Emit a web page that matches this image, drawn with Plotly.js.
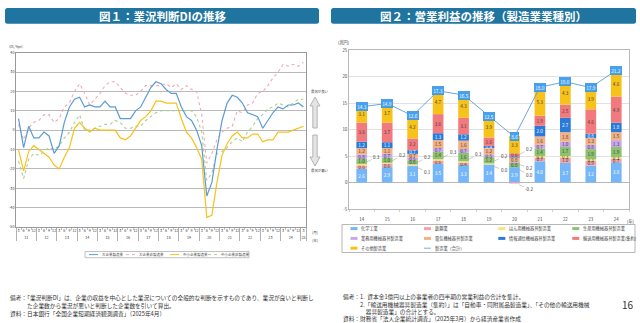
<!DOCTYPE html>
<html><head><meta charset="utf-8">
<script src="https://cdn.plot.ly/plotly-3.0.1.min.js"></script>
<style>html,body{margin:0;padding:0;background:#fff;}#chart{width:640px;height:323px;}</style>
</head><body><div id="chart"></div>
<script>
// ---------- Figure 1 data: 業況判断DI ----------
const yearLabels1 = ['11','12','13','14','15','16','17','18','19','20','21','22','23','24','25'];
const monthLabels1 = ['3','6','9','12'];
const seriesNames1 = ['大企業製造業','大企業非製造業','中小企業製造業','中小企業非製造業'];
const largeMfg    = [6,-9,2,-4, -4,-1,-3,-12, -8,4,12,16, 17,12,13,12, 12,15,12,12, 6,6,6,10, 12,17,22,25, 24,21,19,19, 12,7,5,0, -8,-34,-27,-10, 5,14,18,17, 14,9,8,7, 1,5,9,12, 11,13,13,14, 12];
const largeNonMfg = [3,-5,1,4, 5,8,8,4, 6,12,14,20, 24,19,13,16, 19,23,25,25, 22,19,18,18, 20,23,23,23, 23,24,22,24, 21,23,21,20, 8,-17,-12,-5, -1,1,2,10, 9,13,14,19, 20,23,27,30, 34,33,34,33, 35];
const smallMfg    = [-10,-21,-11,-8, -10,-12,-14,-18, -20,-14,-9,1, 4,1,-1,1, 0,0,0,0, -4,-5,-3,1, 5,7,10,15, 15,14,14,14, 6,-1,-4,-9, -15,-45,-44,-27, -13,-7,-3,-1, -4,-4,-2,-2, -6,-5,-5,-1, -1,-1,0,1, 2];
const smallNonMfg = [-16,-25,-15,-12, -13,-11,-9,-10, -8,-4,-1,4, 8,0,0,1, 2,3,3,5, 4,1,1,2, 2,5,7,9, 10,10,10,10, 10,10,10,7, -1,-26,-22,-12, -11,-9,-6,-4, -6,-1,2,6, 8,11,12,14, 13,12,14,16, 16];
const yTicks1 = [-50,-40,-30,-20,-10,0,10,20,30,40];

// ---------- Figure 2 data: 営業利益 ----------
const years2 = ['14','15','16','17','18','19','20','21','22','23','24'];
const names2 = ['化学工業','鉄鋼業','はん用機械器具製造業','生産用機械器具製造業','業務用機械器具製造業','電気機械器具製造業','情報通信機械器具製造業','輸送用機械器具製造業(集約)','その他製造業'];
const chem   = [2.6,2.9,3.1,3.5,3.3,3.4,2.9,4.0,3.7,3.2,3.8];
const steel  = [0.6,0.6,0.1,0.6,0.4,0.0,-0.2,0.7,1.0,0.9,0.7];
const hanyo  = [0.3,0.2,0.2,0.3,0.3,0.2,0.0,0.3,0.3,0.3,0.3];
const seisan = [1.0,1.0,0.8,1.4,1.6,1.2,0.8,1.4,1.7,1.9,1.9];
const gyomu  = [0.8,0.7,0.5,0.7,0.7,0.5,0.2,0.7,1.0,0.8,1.3];
const denki  = [1.2,1.1,0.7,1.5,1.6,1.2,0.8,1.6,1.8,1.3,1.5];
const joho   = [1.2,1.1,0.7,1.3,1.2,0.4,0.2,2.0,2.7,0.8,1.8];
const yuso   = [3.6,3.7,2.2,3.6,3.1,1.6,0.6,1.9,2.5,4.6,4.9];
const other  = [3.1,3.7,4.2,4.7,4.3,3.9,3.3,5.3,4.3,3.9,4.6];
const totalName = '製造業（合計）';
const total  = [14.3,14.9,12.6,17.3,16.5,12.5,8.6,18.0,19.0,17.9,21.2];
const yTicks2 = [-5,0,5,10,15,20,25];

// ---------- styling ----------
const FONT = '"Noto Sans CJK JP","Noto Sans",sans-serif';
const W = 640, H = 323;
const X = px => px / W, Y = py => 1 - py / H;
const P = (x, y) => `${X(x)},${Y(y)}`;
const colors1 = ['#5b9bd5','#f4a7b9','#f5c21b','#a9d08e'];
const dashes1 = ['solid','dot','solid','dot'];
const colors2 = ['#74b6f7','#f5a3a8','#fbe27a','#8dc26f','#c9a6ee','#f4b185','#2a7ad9','#f27a7e','#f7c31a'];
const txtCol2 = ['#ffffff','#404040','#404040','#404040','#404040','#404040','#ffffff','#404040','#404040'];
const BANNER = '#1f74a0';

// plot areas (px)
const A1 = {l:16, r:306, t:52.7, b:227};
const A2 = {l:349, r:629, t:50, b:209};

// ---------- build figure 1 ----------
const xYears = [], xMonths = [];
yearLabels1.forEach((y, yi) => {
  const ms = (yi === yearLabels1.length - 1) ? monthLabels1.slice(0, 1) : monthLabels1;
  ms.forEach(m => { xYears.push(y); xMonths.push(m); });
});
const series1 = [largeMfg, largeNonMfg, smallMfg, smallNonMfg];
const drawOrder1 = [3, 1, 2, 0];
const traces = [];
drawOrder1.forEach(k => {
  traces.push({
    type: 'scatter', mode: 'lines', name: seriesNames1[k],
    x: [xYears, xMonths], y: series1[k], xaxis: 'x', yaxis: 'y',
    line: {color: colors1[k], width: dashes1[k] === 'dot' ? 1.1 : 1.2, dash: dashes1[k]},
    showlegend: false, hoverinfo: 'skip'
  });
});

// ---------- build figure 2 ----------
const stack2 = [chem, steel, hanyo, seisan, gyomu, denki, joho, yuso, other];
const OUT_MAX = 0.3, OUT_LAST_INDEX = 6;
const isOut = (v, i) => i <= OUT_LAST_INDEX && Math.abs(v) <= OUT_MAX;
stack2.forEach((arr, s) => {
  traces.push({
    type: 'bar', name: names2[s], x: years2, y: arr, xaxis: 'x2', yaxis: 'y2',
    marker: {color: colors2[s], line: {width: 0}},
    text: arr.map((v, i) => isOut(v, i) ? '' : v.toFixed(1)),
    textposition: 'inside', insidetextanchor: 'middle', textangle: 0,
    constraintext: 'none', cliponaxis: false,
    insidetextfont: {size: 4.6, color: txtCol2[s], family: FONT},
    showlegend: false, hoverinfo: 'skip'
  });
});
traces.push({
  type: 'scatter', mode: 'lines', name: totalName, x: years2, y: total,
  xaxis: 'x2', yaxis: 'y2', line: {color: '#5b9bd5', width: 0.9},
  showlegend: false, hoverinfo: 'skip'
});

const annotations = [];
const shapes = [];

// total labels (x given as category index on the category axis)
years2.forEach((yr, i) => {
  annotations.push({x: i, y: total[i], xref: 'x2', yref: 'y2', text: total[i].toFixed(1),
    showarrow: false, bgcolor: '#45a0ee', bordercolor: '#2f8fe0', borderwidth: 0.6, borderpad: 0.6,
    font: {size: 4.8, color: '#ffffff', family: FONT}});
});

// outside small-value labels with leader lines
const ppu = (A2.b - A2.t) / 30;
years2.forEach((yr, i) => {
  let pos = 0, neg = 0;
  const segs = [];
  stack2.forEach(arr => {
    const v = arr[i];
    let mid;
    if (v < 0) { mid = neg + v / 2; neg += v; } else { mid = pos + v / 2; pos += v; }
    if (isOut(v, i)) segs.push({v, mid});
  });
  segs.sort((a, b) => a.mid - b.mid);
  let prev = null;
  for (let k = segs.length - 1; k >= 0; k--) {
    const midPx = segs[k].mid * ppu;
    const tgt = (k === segs.length - 1) ? midPx + 8 : Math.min(midPx - 6, prev - 7);
    prev = tgt;
    annotations.push({x: i, y: segs[k].mid, xref: 'x2', yref: 'y2', text: segs[k].v.toFixed(1),
      showarrow: true, ax: 15, ay: -(tgt - midPx), arrowhead: 0, arrowwidth: 0.5,
      arrowcolor: '#9a9a9a', standoff: 5, font: {size: 4.6, color: '#404040', family: FONT}});
  }
});

// banners
function roundRect(x0, y0, x1, y1, r) {
  const rx = r / W, ry = r / H;
  const a = X(x0), b = X(x1), c = Y(y0), d = Y(y1);
  return `M${a+rx},${c} L${b-rx},${c} Q${b},${c} ${b},${c-ry} L${b},${d+ry} Q${b},${d} ${b-rx},${d} L${a+rx},${d} Q${a},${d} ${a},${d+ry} L${a},${c-ry} Q${a},${c} ${a+rx},${c} Z`;
}
shapes.push({type: 'path', xref: 'paper', yref: 'paper', path: roundRect(5, 8, 319, 23.8, 2.5), fillcolor: BANNER, line: {width: 0}});
shapes.push({type: 'path', xref: 'paper', yref: 'paper', path: roundRect(331, 8, 636, 23.8, 2.5), fillcolor: BANNER, line: {width: 0}});
annotations.push({xref: 'paper', yref: 'paper', x: X(163), y: Y(16), text: '<b>図１：業況判断DIの推移</b>', showarrow: false,
  font: {size: 11.5, color: '#ffffff', family: FONT}, xanchor: 'center', yanchor: 'middle'});
annotations.push({xref: 'paper', yref: 'paper', x: X(483), y: Y(16), text: '<b>図２：営業利益の推移（製造業業種別）</b>', showarrow: false,
  font: {size: 11.5, color: '#ffffff', family: FONT}, xanchor: 'center', yanchor: 'middle'});

// small text helper
function txt(x, y, t, size, anchor, color) {
  annotations.push({xref: 'paper', yref: 'paper', x: X(x), y: Y(y), text: t, showarrow: false,
    xanchor: anchor || 'left', yanchor: 'middle', font: {size: size, color: color || '#404040', family: FONT}});
}
txt(7, 46.5, '(DI, %pt)', 3.4);
txt(310, 232, '(月)', 3.6);
txt(310, 240.5, '(年)', 3.6);
txt(336, 42.5, '(兆円)', 4.2);
txt(625, 221, '(年)', 4.2);

// fig1 right side arrows
shapes.push({type: 'path', xref: 'paper', yref: 'paper',
  path: `M${P(315,97)} L${P(320,106)} L${P(317.2,106)} L${P(317.2,128)} L${P(312.8,128)} L${P(312.8,106)} L${P(310,106)} Z`,
  fillcolor: '#e4e4e4', line: {color: '#a6a6a6', width: 0.8}});
shapes.push({type: 'path', xref: 'paper', yref: 'paper',
  path: `M${P(315,166)} L${P(320,157)} L${P(317.2,157)} L${P(317.2,135)} L${P(312.8,135)} L${P(312.8,157)} L${P(310,157)} Z`,
  fillcolor: '#e4e4e4', line: {color: '#a6a6a6', width: 0.8}});
txt(309, 92, '景況が良い', 3.4);
txt(309, 170, '景況が悪い', 3.4);

// fig1 legend (manual)
shapes.push({type: 'rect', xref: 'paper', yref: 'paper', x0: X(85), x1: X(249), y0: Y(251.5), y1: Y(257.7), line: {color: '#9a9a9a', width: 0.6}, fillcolor: 'rgba(0,0,0,0)'});
const leg1X = [89, 126, 170, 208];
seriesNames1.forEach((n, k) => {
  shapes.push({type: 'line', xref: 'paper', yref: 'paper', x0: X(leg1X[k]), x1: X(leg1X[k] + 9), y0: Y(254.6), y1: Y(254.6),
    line: {color: colors1[k], width: 1, dash: dashes1[k]}});
  txt(leg1X[k] + 11, 254.6, n, 3.5);
});

// fig2 legend (manual)
shapes.push({type: 'rect', xref: 'paper', yref: 'paper', x0: X(342), x1: X(635), y0: Y(224.5), y1: Y(252.5), line: {color: '#9a9a9a', width: 0.7}, fillcolor: 'rgba(0,0,0,0)'});
const leg2X = [350.5, 424, 498.3, 572.3];
const leg2Y = [228.6, 238.4, 248.2];
names2.concat([totalName]).forEach((n, k) => {
  const cx = leg2X[k % 4], cy = leg2Y[Math.floor(k / 4)];
  if (k < names2.length) {
    shapes.push({type: 'rect', xref: 'paper', yref: 'paper', x0: X(cx), x1: X(cx + 7), y0: Y(cy + 1.5), y1: Y(cy - 1.5),
      fillcolor: colors2[k], line: {width: 0}});
  } else {
    shapes.push({type: 'line', xref: 'paper', yref: 'paper', x0: X(cx), x1: X(cx + 7), y0: Y(cy), y1: Y(cy),
      line: {color: '#5b9bd5', width: 0.8}});
  }
  txt(cx + 8.5, cy, n, 4.2);
});

// notes
const NS = 5.7;
txt(8, 297, '備考：「業況判断DI」は、企業の収益を中心とした業況についての全般的な判断を示すものであり、業況が良いと判断し', NS, 'left', '#333');
txt(8, 305, '　　　た企業数から業況が悪いと判断した企業数を引いて算出。', NS, 'left', '#333');
txt(8, 313, '資料：日本銀行「全国企業短期経済観測調査」（2025年4月）', NS, 'left', '#333');
txt(341, 296.5, '備考：1.  資本金1億円以上の事業者の四半期の営業利益の合計を集計。', NS, 'left', '#333');
txt(341, 304, '　　　2.「輸送用機械器具製造業（集約）」は「自動車・同附属品製造業」、「その他の輸送用機械', NS, 'left', '#333');
txt(341, 311, '　　　　器具製造業」の合計とする。', NS, 'left', '#333');
txt(341, 318.5, '資料：財務省「法人企業統計調査」（2025年3月）から経済産業省作成', NS, 'left', '#333');
txt(636, 304, '16', 10, 'right', '#333');

const layout = {
  width: W, height: H, autosize: false,
  margin: {l: 0, r: 0, t: 0, b: 0, pad: 0},
  paper_bgcolor: '#ffffff', plot_bgcolor: '#ffffff',
  font: {family: FONT, color: '#404040'},
  showlegend: false, hovermode: false,
  barmode: 'relative', bargap: 0.58,
  xaxis: {type: 'multicategory', domain: [X(A1.l), X(A1.r)], anchor: 'y',
    range: [-0.5, xYears.length - 0.5],
    tickfont: {size: 3.7, color: '#404040'}, tickangle: 0,
    showline: true, linecolor: '#7f7f7f', linewidth: 0.8, mirror: true,
    ticks: 'outside', ticklen: 2.5, tickwidth: 0.5, tickcolor: '#7f7f7f',
    showgrid: false, showdividers: true, dividercolor: '#7f7f7f', dividerwidth: 0.6, fixedrange: true},
  yaxis: {domain: [Y(A1.b), Y(A1.t)], anchor: 'x', range: [-50, 40],
    tickvals: yTicks1, ticktext: yTicks1.map(String),
    tickfont: {size: 3.7, color: '#404040'},
    showgrid: true, gridcolor: '#b3b3b3', gridwidth: 0.9, zeroline: false,
    showline: true, linecolor: '#7f7f7f', linewidth: 0.8, mirror: true, ticks: '', fixedrange: true},
  xaxis2: {type: 'category', domain: [X(A2.l), X(A2.r)], anchor: 'y2',
    range: [-0.5, years2.length - 0.5],
    tickfont: {size: 4.4, color: '#404040'}, tickangle: 0,
    showline: true, linecolor: '#a6a6a6', linewidth: 0.8, mirror: true,
    ticks: 'outside', tickson: 'boundaries', ticklen: 2.5, tickwidth: 0.5, tickcolor: '#a6a6a6',
    ticklabelstandoff: 6, showgrid: false, fixedrange: true},
  yaxis2: {domain: [Y(A2.b), Y(A2.t)], anchor: 'x2', range: [-5, 25],
    tickvals: yTicks2, ticktext: yTicks2.map(String),
    tickfont: {size: 4.4, color: '#404040'},
    showgrid: true, gridcolor: '#d9d9d9', gridwidth: 0.8,
    zeroline: true, zerolinecolor: '#a6a6a6', zerolinewidth: 0.8,
    showline: true, linecolor: '#a6a6a6', linewidth: 0.8, mirror: true, ticks: '', fixedrange: true},
  annotations: annotations,
  shapes: shapes
};
Plotly.newPlot('chart', traces, layout, {staticPlot: true, displayModeBar: false});
</script></body></html>
